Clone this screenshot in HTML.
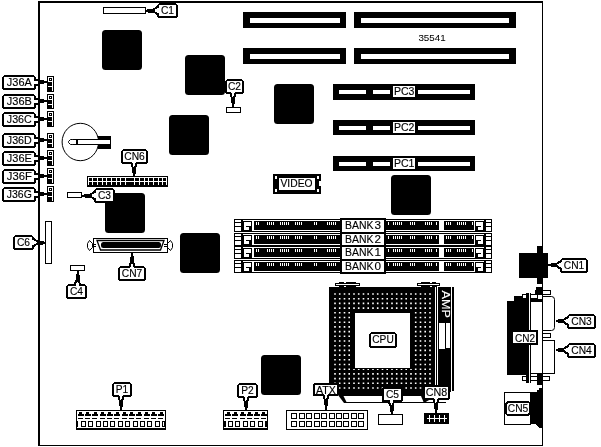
<!DOCTYPE html>
<html><head><meta charset="utf-8"><title>35541</title>
<style>
html,body{margin:0;padding:0;background:#fff;}
svg{display:block;will-change:transform;}
text{font-family:"Liberation Sans",sans-serif;fill:#000;stroke:#000;stroke-width:0.15px;}
</style></head>
<body>
<svg width="601" height="447" viewBox="0 0 601 447" shape-rendering="crispEdges">
<rect x="0" y="0" width="601" height="447" fill="#fff"/>
<rect x="38" y="1" width="505" height="2" fill="#000" />
<rect x="38" y="1" width="2" height="445" fill="#000" />
<rect x="542" y="1" width="1" height="445" fill="#000" />
<rect x="38" y="445" width="505" height="1" fill="#000" />
<rect x="103.5" y="7.5" width="42" height="6" fill="#fff" stroke="#000" stroke-width="1"/>
<rect x="158.0" y="4.0" width="19" height="13" rx="2.5" fill="#fff" stroke="#000" stroke-width="2"/>
<path d="M158 5.5 L153 8.5 L148 8.5 L147 9.5 L146 9.5 L146 11.5 L147 11.5 L148 12.5 L153 12.5 L158 15.5 Z" fill="#000"/>
<path d="M159.5 7.0 L154.5 10.0 L154.5 11.0 L159.5 14.0 Z" fill="#fff"/>
<text x="167.5" y="14" font-size="11.7" text-anchor="middle" textLength="13.1" lengthAdjust="spacingAndGlyphs" >C1</text>
<rect x="102" y="30" width="40" height="40" rx="3.5" fill="#000" shape-rendering="auto"/>
<rect x="185" y="55" width="40" height="40" rx="3.5" fill="#000" shape-rendering="auto"/>
<rect x="169" y="115" width="40" height="40" rx="3.5" fill="#000" shape-rendering="auto"/>
<rect x="274" y="84" width="40" height="40" rx="3.5" fill="#000" shape-rendering="auto"/>
<rect x="391" y="175" width="40" height="40" rx="3.5" fill="#000" shape-rendering="auto"/>
<rect x="105" y="193" width="40" height="40" rx="3.5" fill="#000" shape-rendering="auto"/>
<rect x="180" y="233" width="40" height="40" rx="3.5" fill="#000" shape-rendering="auto"/>
<rect x="261" y="355" width="40" height="40" rx="3.5" fill="#000" shape-rendering="auto"/>
<rect x="226.5" y="107.5" width="14" height="5" fill="#fff" stroke="#000" stroke-width="1"/>
<rect x="226.0" y="80.0" width="17" height="13" rx="2.5" fill="#fff" stroke="#000" stroke-width="2"/>
<path d="M229 93 L231 98 L231 103 L232 104 L232 107 L234 107 L234 104 L235 103 L235 98 L237 93 Z" fill="#000"/>
<path d="M231 91.5 L232.5 96.5 L233.5 96.5 L235 91.5 Z" fill="#fff"/>
<text x="234.5" y="90" font-size="11.7" text-anchor="middle" textLength="13.1" lengthAdjust="spacingAndGlyphs" >C2</text>
<rect x="243" y="12" width="103" height="16" fill="#000" />
<rect x="250" y="18" width="90" height="5" fill="#fff" />
<rect x="354" y="12" width="162" height="16" fill="#000" />
<rect x="361" y="18" width="148" height="5" fill="#fff" />
<rect x="243" y="48" width="103" height="16" fill="#000" />
<rect x="250" y="54" width="90" height="5" fill="#fff" />
<rect x="354" y="48" width="162" height="16" fill="#000" />
<rect x="361" y="54" width="148" height="5" fill="#fff" />
<text x="418.4" y="41" font-size="9.8" style="stroke-width:0.05px">35541</text>
<rect x="333" y="84" width="142" height="16" fill="#000" />
<rect x="339" y="90" width="27" height="4" fill="#fff" />
<rect x="373" y="90" width="17" height="4" fill="#fff" />
<rect x="418" y="90" width="52" height="4" fill="#fff" />
<rect x="393" y="86" width="22" height="11" fill="#fff" />
<text x="404.2" y="95" font-size="11.7" text-anchor="middle" textLength="20.5" lengthAdjust="spacingAndGlyphs" >PC3</text>
<rect x="333" y="120" width="142" height="15" fill="#000" />
<rect x="339" y="125.5" width="27" height="4" fill="#fff" />
<rect x="373" y="125.5" width="17" height="4" fill="#fff" />
<rect x="418" y="125.5" width="52" height="4" fill="#fff" />
<rect x="393" y="122" width="22" height="11" fill="#fff" />
<text x="404.2" y="131" font-size="11.7" text-anchor="middle" textLength="20.5" lengthAdjust="spacingAndGlyphs" >PC2</text>
<rect x="333" y="156" width="142" height="15" fill="#000" />
<rect x="339" y="161.5" width="27" height="4" fill="#fff" />
<rect x="373" y="161.5" width="17" height="4" fill="#fff" />
<rect x="418" y="161.5" width="52" height="4" fill="#fff" />
<rect x="393" y="158" width="22" height="11" fill="#fff" />
<text x="404.2" y="167" font-size="11.7" text-anchor="middle" textLength="20.5" lengthAdjust="spacingAndGlyphs" >PC1</text>
<rect x="3.0" y="76.0" width="32" height="13" fill="#fff" stroke="#000" stroke-width="2" rx="2.5"/>
<rect x="34" y="79" width="4" height="2" fill="#000" />
<rect x="34" y="84" width="4" height="2" fill="#000" />
<rect x="33" y="81" width="5" height="3" fill="#fff" />
<rect x="40" y="80" width="4" height="4" fill="#000" />
<rect x="44" y="81" width="3" height="2" fill="#000" />
<text x="19.3" y="86" font-size="11.7" text-anchor="middle" textLength="25" lengthAdjust="spacingAndGlyphs" >J36A</text>
<rect x="47.5" y="76.5" width="6" height="15" fill="#fff" stroke="#000" stroke-width="1"/>
<rect x="49.5" y="78.5" width="2" height="2" fill="#fff" stroke="#000" stroke-width="1"/>
<rect x="48" y="82" width="4" height="4" fill="#000" />
<rect x="48" y="87" width="4" height="5" fill="#000" />
<rect x="3.0" y="95.0" width="32" height="13" fill="#fff" stroke="#000" stroke-width="2" rx="2.5"/>
<rect x="34" y="98" width="4" height="2" fill="#000" />
<rect x="34" y="103" width="4" height="2" fill="#000" />
<rect x="33" y="100" width="5" height="3" fill="#fff" />
<rect x="40" y="99" width="4" height="4" fill="#000" />
<rect x="44" y="100" width="3" height="2" fill="#000" />
<text x="19.3" y="105" font-size="11.7" text-anchor="middle" textLength="25" lengthAdjust="spacingAndGlyphs" >J36B</text>
<rect x="47.5" y="94.5" width="6" height="14" fill="#fff" stroke="#000" stroke-width="1"/>
<rect x="49.5" y="96.5" width="2" height="2" fill="#fff" stroke="#000" stroke-width="1"/>
<rect x="48" y="100" width="4" height="4" fill="#000" />
<rect x="48" y="105" width="4" height="4" fill="#000" />
<rect x="3.0" y="113.0" width="32" height="13" fill="#fff" stroke="#000" stroke-width="2" rx="2.5"/>
<rect x="34" y="116" width="4" height="2" fill="#000" />
<rect x="34" y="121" width="4" height="2" fill="#000" />
<rect x="33" y="118" width="5" height="3" fill="#fff" />
<rect x="40" y="117" width="4" height="4" fill="#000" />
<rect x="44" y="118" width="3" height="2" fill="#000" />
<text x="19.3" y="123" font-size="11.7" text-anchor="middle" textLength="25" lengthAdjust="spacingAndGlyphs" >J36C</text>
<rect x="47.5" y="111.5" width="6" height="15" fill="#fff" stroke="#000" stroke-width="1"/>
<rect x="49.5" y="113.5" width="2" height="2" fill="#fff" stroke="#000" stroke-width="1"/>
<rect x="48" y="117" width="4" height="4" fill="#000" />
<rect x="48" y="122" width="4" height="5" fill="#000" />
<rect x="3.0" y="134.0" width="32" height="13" fill="#fff" stroke="#000" stroke-width="2" rx="2.5"/>
<rect x="34" y="137" width="4" height="2" fill="#000" />
<rect x="34" y="142" width="4" height="2" fill="#000" />
<rect x="33" y="139" width="5" height="3" fill="#fff" />
<rect x="40" y="138" width="4" height="4" fill="#000" />
<rect x="44" y="139" width="3" height="2" fill="#000" />
<text x="19.3" y="144" font-size="11.7" text-anchor="middle" textLength="25" lengthAdjust="spacingAndGlyphs" >J36D</text>
<rect x="47.5" y="133.5" width="6" height="14" fill="#fff" stroke="#000" stroke-width="1"/>
<rect x="49.5" y="135.5" width="2" height="2" fill="#fff" stroke="#000" stroke-width="1"/>
<rect x="48" y="139" width="4" height="4" fill="#000" />
<rect x="48" y="144" width="4" height="4" fill="#000" />
<rect x="3.0" y="152.0" width="32" height="13" fill="#fff" stroke="#000" stroke-width="2" rx="2.5"/>
<rect x="34" y="155" width="4" height="2" fill="#000" />
<rect x="34" y="160" width="4" height="2" fill="#000" />
<rect x="33" y="157" width="5" height="3" fill="#fff" />
<rect x="40" y="156" width="4" height="4" fill="#000" />
<rect x="44" y="157" width="3" height="2" fill="#000" />
<text x="19.3" y="162" font-size="11.7" text-anchor="middle" textLength="25" lengthAdjust="spacingAndGlyphs" >J36E</text>
<rect x="47.5" y="150.5" width="6" height="15" fill="#fff" stroke="#000" stroke-width="1"/>
<rect x="49.5" y="152.5" width="2" height="2" fill="#fff" stroke="#000" stroke-width="1"/>
<rect x="48" y="156" width="4" height="4" fill="#000" />
<rect x="48" y="161" width="4" height="5" fill="#000" />
<rect x="3.0" y="170.0" width="32" height="13" fill="#fff" stroke="#000" stroke-width="2" rx="2.5"/>
<rect x="34" y="173" width="4" height="2" fill="#000" />
<rect x="34" y="178" width="4" height="2" fill="#000" />
<rect x="33" y="175" width="5" height="3" fill="#fff" />
<rect x="40" y="174" width="4" height="4" fill="#000" />
<rect x="44" y="175" width="3" height="2" fill="#000" />
<text x="19.3" y="180" font-size="11.7" text-anchor="middle" textLength="25" lengthAdjust="spacingAndGlyphs" >J36F</text>
<rect x="47.5" y="168.5" width="6" height="15" fill="#fff" stroke="#000" stroke-width="1"/>
<rect x="49.5" y="170.5" width="2" height="2" fill="#fff" stroke="#000" stroke-width="1"/>
<rect x="48" y="174" width="4" height="4" fill="#000" />
<rect x="48" y="179" width="4" height="5" fill="#000" />
<rect x="3.0" y="188.0" width="32" height="13" fill="#fff" stroke="#000" stroke-width="2" rx="2.5"/>
<rect x="34" y="191" width="4" height="2" fill="#000" />
<rect x="34" y="196" width="4" height="2" fill="#000" />
<rect x="33" y="193" width="5" height="3" fill="#fff" />
<rect x="40" y="192" width="4" height="4" fill="#000" />
<rect x="44" y="193" width="3" height="2" fill="#000" />
<text x="19.3" y="198" font-size="11.7" text-anchor="middle" textLength="25" lengthAdjust="spacingAndGlyphs" >J36G</text>
<rect x="47.5" y="186.5" width="6" height="15" fill="#fff" stroke="#000" stroke-width="1"/>
<rect x="49.5" y="188.5" width="2" height="2" fill="#fff" stroke="#000" stroke-width="1"/>
<rect x="48" y="192" width="4" height="4" fill="#000" />
<rect x="48" y="197" width="4" height="5" fill="#000" />
<ellipse cx="80.3" cy="142" rx="18.2" ry="18.7" fill="#fff" stroke="#000" stroke-width="1" shape-rendering="auto"/>
<rect x="98" y="136" width="13" height="13" fill="#000" />
<rect x="72" y="139" width="39" height="6" fill="#000" />
<rect x="72" y="140" width="38" height="4" fill="#fff" />
<path d="M72.5 139.5 L70.5 139.5 L68.5 141.5 L68.5 142.5 L70.5 144.5 L72.5 144.5" fill="#fff" stroke="#000" stroke-width="1" shape-rendering="auto"/>
<rect x="76" y="140" width="2" height="4" fill="#000" />
<rect x="87" y="176" width="81" height="11" fill="#000" />
<rect x="88" y="177" width="79" height="1" fill="#fff" />
<rect x="88" y="181" width="79" height="1" fill="#fff" />
<rect x="88" y="177" width="1" height="8" fill="#fff" />
<rect x="92" y="177" width="1" height="8" fill="#fff" />
<rect x="97" y="177" width="1" height="8" fill="#fff" />
<rect x="102" y="177" width="1" height="8" fill="#fff" />
<rect x="106" y="177" width="1" height="8" fill="#fff" />
<rect x="111" y="177" width="1" height="8" fill="#fff" />
<rect x="116" y="177" width="1" height="8" fill="#fff" />
<rect x="120" y="177" width="1" height="8" fill="#fff" />
<rect x="125" y="177" width="1" height="8" fill="#fff" />
<rect x="134" y="177" width="1" height="8" fill="#fff" />
<rect x="139" y="177" width="1" height="8" fill="#fff" />
<rect x="144" y="177" width="1" height="8" fill="#fff" />
<rect x="148" y="177" width="1" height="8" fill="#fff" />
<rect x="153" y="177" width="1" height="8" fill="#fff" />
<rect x="158" y="177" width="1" height="8" fill="#fff" />
<rect x="162" y="177" width="1" height="8" fill="#fff" />
<rect x="166" y="177" width="1" height="8" fill="#fff" />
<rect x="122.0" y="150.0" width="25" height="13" rx="2.5" fill="#fff" stroke="#000" stroke-width="2"/>
<path d="M130 163 L132 168 L132 173 L133 174 L133 176 L135 176 L135 174 L136 173 L136 168 L138 163 Z" fill="#000"/>
<path d="M132 161.5 L133.5 166.5 L134.5 166.5 L136 161.5 Z" fill="#fff"/>
<text x="134.5" y="160" font-size="11.7" text-anchor="middle" textLength="20.5" lengthAdjust="spacingAndGlyphs" >CN6</text>
<rect x="67.5" y="192.5" width="14" height="5" fill="#fff" stroke="#000" stroke-width="1"/>
<rect x="95.0" y="189.0" width="19" height="13" rx="2.5" fill="#fff" stroke="#000" stroke-width="2"/>
<path d="M95 190.5 L90 193.5 L85 193.5 L84 194.5 L82 194.5 L82 196.5 L84 196.5 L85 197.5 L90 197.5 L95 200.5 Z" fill="#000"/>
<path d="M96.5 192.0 L91.5 195.0 L91.5 196.0 L96.5 199.0 Z" fill="#fff"/>
<text x="104.5" y="199" font-size="11.7" text-anchor="middle" textLength="13.1" lengthAdjust="spacingAndGlyphs" >C3</text>
<rect x="45.5" y="221.5" width="6" height="42" fill="#fff" stroke="#000" stroke-width="1"/>
<rect x="14.0" y="236.0" width="19" height="13" rx="2.5" fill="#fff" stroke="#000" stroke-width="2"/>
<path d="M33 237.5 L38 240.5 L43 240.5 L44 241.5 L45 241.5 L45 243.5 L44 243.5 L43 244.5 L38 244.5 L33 247.5 Z" fill="#000"/>
<path d="M31.5 239.0 L36.5 242.0 L36.5 243.0 L31.5 246.0 Z" fill="#fff"/>
<text x="23.5" y="246" font-size="11.7" text-anchor="middle" textLength="13.1" lengthAdjust="spacingAndGlyphs" >C6</text>
<rect x="70.5" y="265.5" width="14" height="5" fill="#fff" stroke="#000" stroke-width="1"/>
<rect x="67.0" y="285.0" width="19" height="13" rx="2.5" fill="#fff" stroke="#000" stroke-width="2"/>
<path d="M73.5 285 L75.5 280 L75.5 275 L76.5 274 L76.5 271 L78.5 271 L78.5 274 L79.5 275 L79.5 280 L81.5 285 Z" fill="#000"/>
<path d="M75.5 286.5 L77.0 281.5 L78.0 281.5 L79.5 286.5 Z" fill="#fff"/>
<text x="76.5" y="295" font-size="11.7" text-anchor="middle" textLength="13.1" lengthAdjust="spacingAndGlyphs" >C4</text>
<path d="M89.5 240.5 L87.5 243.5 L87.5 247.5 L89.5 250.5 L92.5 247.5 L92.5 243.5 Z" fill="#fff" stroke="#000" stroke-width="1" shape-rendering="auto"/>
<path d="M170.5 240.5 L172.5 243.5 L172.5 247.5 L170.5 250.5 L167.5 247.5 L167.5 243.5 Z" fill="#fff" stroke="#000" stroke-width="1" shape-rendering="auto"/>
<rect x="93.5" y="238.5" width="74" height="14" fill="#fff" stroke="#000" stroke-width="1"/>
<rect x="92" y="244" width="4" height="1" fill="#000" />
<rect x="92" y="246" width="4" height="1" fill="#000" />
<rect x="164" y="244" width="4" height="1" fill="#000" />
<rect x="164" y="246" width="4" height="1" fill="#000" />
<path d="M97 240.5 L164 240.5 L160.5 250 L100.5 250 Z" fill="#fff" stroke="#000" stroke-width="1.3" shape-rendering="auto"/>
<rect x="101" y="242" width="60" height="6" rx="2.5" fill="#000" shape-rendering="auto"/>
<rect x="119.0" y="267.0" width="26" height="13" rx="2.5" fill="#fff" stroke="#000" stroke-width="2"/>
<path d="M128 267 L130 262 L130 257 L131 256 L131 253 L133 253 L133 256 L134 257 L134 262 L136 267 Z" fill="#000"/>
<path d="M130 268.5 L131.5 263.5 L132.5 263.5 L134 268.5 Z" fill="#fff"/>
<text x="132.0" y="277" font-size="11.7" text-anchor="middle" textLength="20.5" lengthAdjust="spacingAndGlyphs" >CN7</text>
<rect x="273" y="174" width="48" height="20" fill="#000" />
<rect x="279" y="178" width="36" height="12" fill="#fff" />
<rect x="275" y="176" width="2" height="3" fill="#fff" />
<rect x="317" y="176" width="2" height="3" fill="#fff" />
<rect x="275" y="189" width="2" height="3" fill="#fff" />
<rect x="317" y="189" width="2" height="3" fill="#fff" />
<rect x="319" y="181" width="2" height="5" fill="#fff" />
<text x="296.5" y="187" font-size="11.7" text-anchor="middle" textLength="32" lengthAdjust="spacingAndGlyphs" >VIDEO</text>
<rect x="234.5" y="219.5" width="257" height="12" fill="#fff" stroke="#000" stroke-width="1"/>
<rect x="234" y="222" width="7" height="1" fill="#000" />
<rect x="234" y="226" width="7" height="1" fill="#000" />
<rect x="486" y="222" width="6" height="1" fill="#000" />
<rect x="486" y="226" width="6" height="1" fill="#000" />
<rect x="241" y="219" width="2" height="13" fill="#000" />
<rect x="484" y="219" width="2" height="13" fill="#000" />
<rect x="243" y="221" width="9" height="10" fill="#000" />
<rect x="244" y="222" width="7" height="4" fill="#fff" />
<rect x="244" y="226" width="2" height="1" fill="#fff" />
<rect x="244" y="227" width="5" height="3" fill="#fff" />
<rect x="475" y="221" width="9" height="10" fill="#000" />
<rect x="476" y="222" width="7" height="4" fill="#fff" />
<rect x="481" y="226" width="2" height="1" fill="#fff" />
<rect x="478" y="227" width="5" height="3" fill="#fff" />
<rect x="254" y="221" width="86" height="9" fill="#000" />
<rect x="386" y="221" width="53" height="9" fill="#000" />
<rect x="444" y="221" width="30" height="9" fill="#000" />
<rect x="256" y="222" width="1" height="3" fill="#fff" />
<rect x="258" y="222" width="1" height="3" fill="#fff" />
<rect x="267" y="222" width="1" height="3" fill="#fff" />
<rect x="269" y="222" width="1" height="3" fill="#fff" />
<rect x="271" y="222" width="1" height="3" fill="#fff" />
<rect x="273" y="222" width="1" height="3" fill="#fff" />
<rect x="280" y="222" width="1" height="3" fill="#fff" />
<rect x="282" y="222" width="1" height="3" fill="#fff" />
<rect x="284" y="222" width="1" height="3" fill="#fff" />
<rect x="286" y="222" width="1" height="3" fill="#fff" />
<rect x="288" y="222" width="1" height="3" fill="#fff" />
<rect x="295" y="222" width="1" height="3" fill="#fff" />
<rect x="297" y="222" width="1" height="3" fill="#fff" />
<rect x="299" y="222" width="1" height="3" fill="#fff" />
<rect x="301" y="222" width="1" height="3" fill="#fff" />
<rect x="314" y="222" width="1" height="3" fill="#fff" />
<rect x="316" y="222" width="1" height="3" fill="#fff" />
<rect x="327" y="222" width="1" height="3" fill="#fff" />
<rect x="329" y="222" width="1" height="3" fill="#fff" />
<rect x="331" y="222" width="1" height="3" fill="#fff" />
<rect x="333" y="222" width="1" height="3" fill="#fff" />
<rect x="335" y="222" width="1" height="3" fill="#fff" />
<rect x="388" y="222" width="1" height="3" fill="#fff" />
<rect x="393" y="222" width="1" height="3" fill="#fff" />
<rect x="395" y="222" width="1" height="3" fill="#fff" />
<rect x="397" y="222" width="1" height="3" fill="#fff" />
<rect x="399" y="222" width="1" height="3" fill="#fff" />
<rect x="401" y="222" width="1" height="3" fill="#fff" />
<rect x="410" y="222" width="1" height="3" fill="#fff" />
<rect x="412" y="222" width="1" height="3" fill="#fff" />
<rect x="414" y="222" width="1" height="3" fill="#fff" />
<rect x="425" y="222" width="1" height="3" fill="#fff" />
<rect x="427" y="222" width="1" height="3" fill="#fff" />
<rect x="429" y="222" width="1" height="3" fill="#fff" />
<rect x="431" y="222" width="1" height="3" fill="#fff" />
<rect x="436" y="222" width="1" height="3" fill="#fff" />
<rect x="446" y="222" width="1" height="3" fill="#fff" />
<rect x="448" y="222" width="1" height="3" fill="#fff" />
<rect x="450" y="222" width="1" height="3" fill="#fff" />
<rect x="457" y="222" width="1" height="3" fill="#fff" />
<rect x="459" y="222" width="1" height="3" fill="#fff" />
<rect x="461" y="222" width="1" height="3" fill="#fff" />
<rect x="463" y="222" width="1" height="3" fill="#fff" />
<rect x="465" y="222" width="1" height="3" fill="#fff" />
<rect x="472" y="222" width="1" height="3" fill="#fff" />
<rect x="234.5" y="233.5" width="257" height="12" fill="#fff" stroke="#000" stroke-width="1"/>
<rect x="234" y="236" width="7" height="1" fill="#000" />
<rect x="234" y="240" width="7" height="1" fill="#000" />
<rect x="486" y="236" width="6" height="1" fill="#000" />
<rect x="486" y="240" width="6" height="1" fill="#000" />
<rect x="241" y="233" width="2" height="13" fill="#000" />
<rect x="484" y="233" width="2" height="13" fill="#000" />
<rect x="243" y="235" width="9" height="10" fill="#000" />
<rect x="244" y="236" width="7" height="4" fill="#fff" />
<rect x="244" y="240" width="2" height="1" fill="#fff" />
<rect x="244" y="241" width="5" height="3" fill="#fff" />
<rect x="475" y="235" width="9" height="10" fill="#000" />
<rect x="476" y="236" width="7" height="4" fill="#fff" />
<rect x="481" y="240" width="2" height="1" fill="#fff" />
<rect x="478" y="241" width="5" height="3" fill="#fff" />
<rect x="254" y="235" width="86" height="9" fill="#000" />
<rect x="386" y="235" width="53" height="9" fill="#000" />
<rect x="444" y="235" width="30" height="9" fill="#000" />
<rect x="256" y="236" width="1" height="3" fill="#fff" />
<rect x="258" y="236" width="1" height="3" fill="#fff" />
<rect x="267" y="236" width="1" height="3" fill="#fff" />
<rect x="269" y="236" width="1" height="3" fill="#fff" />
<rect x="271" y="236" width="1" height="3" fill="#fff" />
<rect x="273" y="236" width="1" height="3" fill="#fff" />
<rect x="280" y="236" width="1" height="3" fill="#fff" />
<rect x="282" y="236" width="1" height="3" fill="#fff" />
<rect x="284" y="236" width="1" height="3" fill="#fff" />
<rect x="286" y="236" width="1" height="3" fill="#fff" />
<rect x="288" y="236" width="1" height="3" fill="#fff" />
<rect x="295" y="236" width="1" height="3" fill="#fff" />
<rect x="297" y="236" width="1" height="3" fill="#fff" />
<rect x="299" y="236" width="1" height="3" fill="#fff" />
<rect x="301" y="236" width="1" height="3" fill="#fff" />
<rect x="314" y="236" width="1" height="3" fill="#fff" />
<rect x="316" y="236" width="1" height="3" fill="#fff" />
<rect x="327" y="236" width="1" height="3" fill="#fff" />
<rect x="329" y="236" width="1" height="3" fill="#fff" />
<rect x="331" y="236" width="1" height="3" fill="#fff" />
<rect x="333" y="236" width="1" height="3" fill="#fff" />
<rect x="335" y="236" width="1" height="3" fill="#fff" />
<rect x="388" y="236" width="1" height="3" fill="#fff" />
<rect x="393" y="236" width="1" height="3" fill="#fff" />
<rect x="395" y="236" width="1" height="3" fill="#fff" />
<rect x="397" y="236" width="1" height="3" fill="#fff" />
<rect x="399" y="236" width="1" height="3" fill="#fff" />
<rect x="401" y="236" width="1" height="3" fill="#fff" />
<rect x="410" y="236" width="1" height="3" fill="#fff" />
<rect x="412" y="236" width="1" height="3" fill="#fff" />
<rect x="414" y="236" width="1" height="3" fill="#fff" />
<rect x="425" y="236" width="1" height="3" fill="#fff" />
<rect x="427" y="236" width="1" height="3" fill="#fff" />
<rect x="429" y="236" width="1" height="3" fill="#fff" />
<rect x="431" y="236" width="1" height="3" fill="#fff" />
<rect x="436" y="236" width="1" height="3" fill="#fff" />
<rect x="446" y="236" width="1" height="3" fill="#fff" />
<rect x="448" y="236" width="1" height="3" fill="#fff" />
<rect x="450" y="236" width="1" height="3" fill="#fff" />
<rect x="457" y="236" width="1" height="3" fill="#fff" />
<rect x="459" y="236" width="1" height="3" fill="#fff" />
<rect x="461" y="236" width="1" height="3" fill="#fff" />
<rect x="463" y="236" width="1" height="3" fill="#fff" />
<rect x="465" y="236" width="1" height="3" fill="#fff" />
<rect x="472" y="236" width="1" height="3" fill="#fff" />
<rect x="234.5" y="246.5" width="257" height="12" fill="#fff" stroke="#000" stroke-width="1"/>
<rect x="234" y="249" width="7" height="1" fill="#000" />
<rect x="234" y="253" width="7" height="1" fill="#000" />
<rect x="486" y="249" width="6" height="1" fill="#000" />
<rect x="486" y="253" width="6" height="1" fill="#000" />
<rect x="241" y="246" width="2" height="13" fill="#000" />
<rect x="484" y="246" width="2" height="13" fill="#000" />
<rect x="243" y="248" width="9" height="10" fill="#000" />
<rect x="244" y="249" width="7" height="4" fill="#fff" />
<rect x="244" y="253" width="2" height="1" fill="#fff" />
<rect x="244" y="254" width="5" height="3" fill="#fff" />
<rect x="475" y="248" width="9" height="10" fill="#000" />
<rect x="476" y="249" width="7" height="4" fill="#fff" />
<rect x="481" y="253" width="2" height="1" fill="#fff" />
<rect x="478" y="254" width="5" height="3" fill="#fff" />
<rect x="254" y="248" width="86" height="9" fill="#000" />
<rect x="386" y="248" width="53" height="9" fill="#000" />
<rect x="444" y="248" width="30" height="9" fill="#000" />
<rect x="256" y="249" width="1" height="3" fill="#fff" />
<rect x="258" y="249" width="1" height="3" fill="#fff" />
<rect x="267" y="249" width="1" height="3" fill="#fff" />
<rect x="269" y="249" width="1" height="3" fill="#fff" />
<rect x="271" y="249" width="1" height="3" fill="#fff" />
<rect x="273" y="249" width="1" height="3" fill="#fff" />
<rect x="280" y="249" width="1" height="3" fill="#fff" />
<rect x="282" y="249" width="1" height="3" fill="#fff" />
<rect x="284" y="249" width="1" height="3" fill="#fff" />
<rect x="286" y="249" width="1" height="3" fill="#fff" />
<rect x="288" y="249" width="1" height="3" fill="#fff" />
<rect x="295" y="249" width="1" height="3" fill="#fff" />
<rect x="297" y="249" width="1" height="3" fill="#fff" />
<rect x="299" y="249" width="1" height="3" fill="#fff" />
<rect x="301" y="249" width="1" height="3" fill="#fff" />
<rect x="314" y="249" width="1" height="3" fill="#fff" />
<rect x="316" y="249" width="1" height="3" fill="#fff" />
<rect x="327" y="249" width="1" height="3" fill="#fff" />
<rect x="329" y="249" width="1" height="3" fill="#fff" />
<rect x="331" y="249" width="1" height="3" fill="#fff" />
<rect x="333" y="249" width="1" height="3" fill="#fff" />
<rect x="335" y="249" width="1" height="3" fill="#fff" />
<rect x="388" y="249" width="1" height="3" fill="#fff" />
<rect x="393" y="249" width="1" height="3" fill="#fff" />
<rect x="395" y="249" width="1" height="3" fill="#fff" />
<rect x="397" y="249" width="1" height="3" fill="#fff" />
<rect x="399" y="249" width="1" height="3" fill="#fff" />
<rect x="401" y="249" width="1" height="3" fill="#fff" />
<rect x="410" y="249" width="1" height="3" fill="#fff" />
<rect x="412" y="249" width="1" height="3" fill="#fff" />
<rect x="414" y="249" width="1" height="3" fill="#fff" />
<rect x="425" y="249" width="1" height="3" fill="#fff" />
<rect x="427" y="249" width="1" height="3" fill="#fff" />
<rect x="429" y="249" width="1" height="3" fill="#fff" />
<rect x="431" y="249" width="1" height="3" fill="#fff" />
<rect x="436" y="249" width="1" height="3" fill="#fff" />
<rect x="446" y="249" width="1" height="3" fill="#fff" />
<rect x="448" y="249" width="1" height="3" fill="#fff" />
<rect x="450" y="249" width="1" height="3" fill="#fff" />
<rect x="457" y="249" width="1" height="3" fill="#fff" />
<rect x="459" y="249" width="1" height="3" fill="#fff" />
<rect x="461" y="249" width="1" height="3" fill="#fff" />
<rect x="463" y="249" width="1" height="3" fill="#fff" />
<rect x="465" y="249" width="1" height="3" fill="#fff" />
<rect x="472" y="249" width="1" height="3" fill="#fff" />
<rect x="234.5" y="260.5" width="257" height="12" fill="#fff" stroke="#000" stroke-width="1"/>
<rect x="234" y="263" width="7" height="1" fill="#000" />
<rect x="234" y="267" width="7" height="1" fill="#000" />
<rect x="486" y="263" width="6" height="1" fill="#000" />
<rect x="486" y="267" width="6" height="1" fill="#000" />
<rect x="241" y="260" width="2" height="13" fill="#000" />
<rect x="484" y="260" width="2" height="13" fill="#000" />
<rect x="243" y="262" width="9" height="10" fill="#000" />
<rect x="244" y="263" width="7" height="4" fill="#fff" />
<rect x="244" y="267" width="2" height="1" fill="#fff" />
<rect x="244" y="268" width="5" height="3" fill="#fff" />
<rect x="475" y="262" width="9" height="10" fill="#000" />
<rect x="476" y="263" width="7" height="4" fill="#fff" />
<rect x="481" y="267" width="2" height="1" fill="#fff" />
<rect x="478" y="268" width="5" height="3" fill="#fff" />
<rect x="254" y="262" width="86" height="9" fill="#000" />
<rect x="386" y="262" width="53" height="9" fill="#000" />
<rect x="444" y="262" width="30" height="9" fill="#000" />
<rect x="256" y="263" width="1" height="3" fill="#fff" />
<rect x="258" y="263" width="1" height="3" fill="#fff" />
<rect x="267" y="263" width="1" height="3" fill="#fff" />
<rect x="269" y="263" width="1" height="3" fill="#fff" />
<rect x="271" y="263" width="1" height="3" fill="#fff" />
<rect x="273" y="263" width="1" height="3" fill="#fff" />
<rect x="280" y="263" width="1" height="3" fill="#fff" />
<rect x="282" y="263" width="1" height="3" fill="#fff" />
<rect x="284" y="263" width="1" height="3" fill="#fff" />
<rect x="286" y="263" width="1" height="3" fill="#fff" />
<rect x="288" y="263" width="1" height="3" fill="#fff" />
<rect x="295" y="263" width="1" height="3" fill="#fff" />
<rect x="297" y="263" width="1" height="3" fill="#fff" />
<rect x="299" y="263" width="1" height="3" fill="#fff" />
<rect x="301" y="263" width="1" height="3" fill="#fff" />
<rect x="314" y="263" width="1" height="3" fill="#fff" />
<rect x="316" y="263" width="1" height="3" fill="#fff" />
<rect x="327" y="263" width="1" height="3" fill="#fff" />
<rect x="329" y="263" width="1" height="3" fill="#fff" />
<rect x="331" y="263" width="1" height="3" fill="#fff" />
<rect x="333" y="263" width="1" height="3" fill="#fff" />
<rect x="335" y="263" width="1" height="3" fill="#fff" />
<rect x="388" y="263" width="1" height="3" fill="#fff" />
<rect x="393" y="263" width="1" height="3" fill="#fff" />
<rect x="395" y="263" width="1" height="3" fill="#fff" />
<rect x="397" y="263" width="1" height="3" fill="#fff" />
<rect x="399" y="263" width="1" height="3" fill="#fff" />
<rect x="401" y="263" width="1" height="3" fill="#fff" />
<rect x="410" y="263" width="1" height="3" fill="#fff" />
<rect x="412" y="263" width="1" height="3" fill="#fff" />
<rect x="414" y="263" width="1" height="3" fill="#fff" />
<rect x="425" y="263" width="1" height="3" fill="#fff" />
<rect x="427" y="263" width="1" height="3" fill="#fff" />
<rect x="429" y="263" width="1" height="3" fill="#fff" />
<rect x="431" y="263" width="1" height="3" fill="#fff" />
<rect x="436" y="263" width="1" height="3" fill="#fff" />
<rect x="446" y="263" width="1" height="3" fill="#fff" />
<rect x="448" y="263" width="1" height="3" fill="#fff" />
<rect x="450" y="263" width="1" height="3" fill="#fff" />
<rect x="457" y="263" width="1" height="3" fill="#fff" />
<rect x="459" y="263" width="1" height="3" fill="#fff" />
<rect x="461" y="263" width="1" height="3" fill="#fff" />
<rect x="463" y="263" width="1" height="3" fill="#fff" />
<rect x="465" y="263" width="1" height="3" fill="#fff" />
<rect x="472" y="263" width="1" height="3" fill="#fff" />
<rect x="340" y="218" width="46" height="56" fill="#000" />
<rect x="342" y="220" width="42" height="12" fill="#fff" />
<text x="345" y="228.6" font-size="11.7" text-anchor="start" textLength="28.5" lengthAdjust="spacingAndGlyphs" >BANK</text>
<text x="381" y="228.6" font-size="11.7" text-anchor="end" >3</text>
<rect x="342" y="234" width="42" height="11" fill="#fff" />
<text x="345" y="242.6" font-size="11.7" text-anchor="start" textLength="28.5" lengthAdjust="spacingAndGlyphs" >BANK</text>
<text x="381" y="242.6" font-size="11.7" text-anchor="end" >2</text>
<rect x="342" y="247" width="42" height="12" fill="#fff" />
<text x="345" y="255.6" font-size="11.7" text-anchor="start" textLength="28.5" lengthAdjust="spacingAndGlyphs" >BANK</text>
<text x="381" y="255.6" font-size="11.7" text-anchor="end" >1</text>
<rect x="342" y="261" width="42" height="11" fill="#fff" />
<text x="345" y="269.6" font-size="11.7" text-anchor="start" textLength="28.5" lengthAdjust="spacingAndGlyphs" >BANK</text>
<text x="381" y="269.6" font-size="11.7" text-anchor="end" >0</text>
<rect x="329" y="287" width="107" height="108" fill="#000" />
<path d="M334.2 293.2h1.6v1.6h-1.6zM338.9 293.2h1.6v1.6h-1.6zM343.7 293.2h1.6v1.6h-1.6zM348.4 293.2h1.6v1.6h-1.6zM353.2 293.2h1.6v1.6h-1.6zM357.9 293.2h1.6v1.6h-1.6zM362.7 293.2h1.6v1.6h-1.6zM367.4 293.2h1.6v1.6h-1.6zM372.2 293.2h1.6v1.6h-1.6zM376.9 293.2h1.6v1.6h-1.6zM381.7 293.2h1.6v1.6h-1.6zM386.4 293.2h1.6v1.6h-1.6zM391.2 293.2h1.6v1.6h-1.6zM395.9 293.2h1.6v1.6h-1.6zM400.7 293.2h1.6v1.6h-1.6zM405.4 293.2h1.6v1.6h-1.6zM410.2 293.2h1.6v1.6h-1.6zM414.9 293.2h1.6v1.6h-1.6zM419.7 293.2h1.6v1.6h-1.6zM424.4 293.2h1.6v1.6h-1.6zM429.2 293.2h1.6v1.6h-1.6zM334.2 297.9h1.6v1.6h-1.6zM338.9 297.9h1.6v1.6h-1.6zM343.7 297.9h1.6v1.6h-1.6zM348.4 297.9h1.6v1.6h-1.6zM353.2 297.9h1.6v1.6h-1.6zM357.9 297.9h1.6v1.6h-1.6zM362.7 297.9h1.6v1.6h-1.6zM367.4 297.9h1.6v1.6h-1.6zM372.2 297.9h1.6v1.6h-1.6zM376.9 297.9h1.6v1.6h-1.6zM381.7 297.9h1.6v1.6h-1.6zM386.4 297.9h1.6v1.6h-1.6zM391.2 297.9h1.6v1.6h-1.6zM395.9 297.9h1.6v1.6h-1.6zM400.7 297.9h1.6v1.6h-1.6zM405.4 297.9h1.6v1.6h-1.6zM410.2 297.9h1.6v1.6h-1.6zM414.9 297.9h1.6v1.6h-1.6zM419.7 297.9h1.6v1.6h-1.6zM424.4 297.9h1.6v1.6h-1.6zM429.2 297.9h1.6v1.6h-1.6zM334.2 302.6h1.6v1.6h-1.6zM338.9 302.6h1.6v1.6h-1.6zM343.7 302.6h1.6v1.6h-1.6zM348.4 302.6h1.6v1.6h-1.6zM353.2 302.6h1.6v1.6h-1.6zM357.9 302.6h1.6v1.6h-1.6zM362.7 302.6h1.6v1.6h-1.6zM367.4 302.6h1.6v1.6h-1.6zM372.2 302.6h1.6v1.6h-1.6zM376.9 302.6h1.6v1.6h-1.6zM381.7 302.6h1.6v1.6h-1.6zM386.4 302.6h1.6v1.6h-1.6zM391.2 302.6h1.6v1.6h-1.6zM395.9 302.6h1.6v1.6h-1.6zM400.7 302.6h1.6v1.6h-1.6zM405.4 302.6h1.6v1.6h-1.6zM410.2 302.6h1.6v1.6h-1.6zM414.9 302.6h1.6v1.6h-1.6zM419.7 302.6h1.6v1.6h-1.6zM424.4 302.6h1.6v1.6h-1.6zM429.2 302.6h1.6v1.6h-1.6zM334.2 307.3h1.6v1.6h-1.6zM338.9 307.3h1.6v1.6h-1.6zM343.7 307.3h1.6v1.6h-1.6zM348.4 307.3h1.6v1.6h-1.6zM353.2 307.3h1.6v1.6h-1.6zM357.9 307.3h1.6v1.6h-1.6zM362.7 307.3h1.6v1.6h-1.6zM367.4 307.3h1.6v1.6h-1.6zM372.2 307.3h1.6v1.6h-1.6zM376.9 307.3h1.6v1.6h-1.6zM381.7 307.3h1.6v1.6h-1.6zM386.4 307.3h1.6v1.6h-1.6zM391.2 307.3h1.6v1.6h-1.6zM395.9 307.3h1.6v1.6h-1.6zM400.7 307.3h1.6v1.6h-1.6zM405.4 307.3h1.6v1.6h-1.6zM410.2 307.3h1.6v1.6h-1.6zM414.9 307.3h1.6v1.6h-1.6zM419.7 307.3h1.6v1.6h-1.6zM424.4 307.3h1.6v1.6h-1.6zM429.2 307.3h1.6v1.6h-1.6zM334.2 312.0h1.6v1.6h-1.6zM338.9 312.0h1.6v1.6h-1.6zM343.7 312.0h1.6v1.6h-1.6zM348.4 312.0h1.6v1.6h-1.6zM353.2 312.0h1.6v1.6h-1.6zM357.9 312.0h1.6v1.6h-1.6zM362.7 312.0h1.6v1.6h-1.6zM367.4 312.0h1.6v1.6h-1.6zM372.2 312.0h1.6v1.6h-1.6zM376.9 312.0h1.6v1.6h-1.6zM381.7 312.0h1.6v1.6h-1.6zM386.4 312.0h1.6v1.6h-1.6zM391.2 312.0h1.6v1.6h-1.6zM395.9 312.0h1.6v1.6h-1.6zM400.7 312.0h1.6v1.6h-1.6zM405.4 312.0h1.6v1.6h-1.6zM410.2 312.0h1.6v1.6h-1.6zM414.9 312.0h1.6v1.6h-1.6zM419.7 312.0h1.6v1.6h-1.6zM424.4 312.0h1.6v1.6h-1.6zM429.2 312.0h1.6v1.6h-1.6zM334.2 316.7h1.6v1.6h-1.6zM338.9 316.7h1.6v1.6h-1.6zM343.7 316.7h1.6v1.6h-1.6zM348.4 316.7h1.6v1.6h-1.6zM353.2 316.7h1.6v1.6h-1.6zM357.9 316.7h1.6v1.6h-1.6zM362.7 316.7h1.6v1.6h-1.6zM367.4 316.7h1.6v1.6h-1.6zM372.2 316.7h1.6v1.6h-1.6zM376.9 316.7h1.6v1.6h-1.6zM381.7 316.7h1.6v1.6h-1.6zM386.4 316.7h1.6v1.6h-1.6zM391.2 316.7h1.6v1.6h-1.6zM395.9 316.7h1.6v1.6h-1.6zM400.7 316.7h1.6v1.6h-1.6zM405.4 316.7h1.6v1.6h-1.6zM410.2 316.7h1.6v1.6h-1.6zM414.9 316.7h1.6v1.6h-1.6zM419.7 316.7h1.6v1.6h-1.6zM424.4 316.7h1.6v1.6h-1.6zM429.2 316.7h1.6v1.6h-1.6zM334.2 321.4h1.6v1.6h-1.6zM338.9 321.4h1.6v1.6h-1.6zM343.7 321.4h1.6v1.6h-1.6zM348.4 321.4h1.6v1.6h-1.6zM353.2 321.4h1.6v1.6h-1.6zM357.9 321.4h1.6v1.6h-1.6zM362.7 321.4h1.6v1.6h-1.6zM367.4 321.4h1.6v1.6h-1.6zM372.2 321.4h1.6v1.6h-1.6zM376.9 321.4h1.6v1.6h-1.6zM381.7 321.4h1.6v1.6h-1.6zM386.4 321.4h1.6v1.6h-1.6zM391.2 321.4h1.6v1.6h-1.6zM395.9 321.4h1.6v1.6h-1.6zM400.7 321.4h1.6v1.6h-1.6zM405.4 321.4h1.6v1.6h-1.6zM410.2 321.4h1.6v1.6h-1.6zM414.9 321.4h1.6v1.6h-1.6zM419.7 321.4h1.6v1.6h-1.6zM424.4 321.4h1.6v1.6h-1.6zM429.2 321.4h1.6v1.6h-1.6zM334.2 326.1h1.6v1.6h-1.6zM338.9 326.1h1.6v1.6h-1.6zM343.7 326.1h1.6v1.6h-1.6zM348.4 326.1h1.6v1.6h-1.6zM353.2 326.1h1.6v1.6h-1.6zM357.9 326.1h1.6v1.6h-1.6zM362.7 326.1h1.6v1.6h-1.6zM367.4 326.1h1.6v1.6h-1.6zM372.2 326.1h1.6v1.6h-1.6zM376.9 326.1h1.6v1.6h-1.6zM381.7 326.1h1.6v1.6h-1.6zM386.4 326.1h1.6v1.6h-1.6zM391.2 326.1h1.6v1.6h-1.6zM395.9 326.1h1.6v1.6h-1.6zM400.7 326.1h1.6v1.6h-1.6zM405.4 326.1h1.6v1.6h-1.6zM410.2 326.1h1.6v1.6h-1.6zM414.9 326.1h1.6v1.6h-1.6zM419.7 326.1h1.6v1.6h-1.6zM424.4 326.1h1.6v1.6h-1.6zM429.2 326.1h1.6v1.6h-1.6zM334.2 330.8h1.6v1.6h-1.6zM338.9 330.8h1.6v1.6h-1.6zM343.7 330.8h1.6v1.6h-1.6zM348.4 330.8h1.6v1.6h-1.6zM353.2 330.8h1.6v1.6h-1.6zM357.9 330.8h1.6v1.6h-1.6zM362.7 330.8h1.6v1.6h-1.6zM367.4 330.8h1.6v1.6h-1.6zM372.2 330.8h1.6v1.6h-1.6zM376.9 330.8h1.6v1.6h-1.6zM381.7 330.8h1.6v1.6h-1.6zM386.4 330.8h1.6v1.6h-1.6zM391.2 330.8h1.6v1.6h-1.6zM395.9 330.8h1.6v1.6h-1.6zM400.7 330.8h1.6v1.6h-1.6zM405.4 330.8h1.6v1.6h-1.6zM410.2 330.8h1.6v1.6h-1.6zM414.9 330.8h1.6v1.6h-1.6zM419.7 330.8h1.6v1.6h-1.6zM424.4 330.8h1.6v1.6h-1.6zM429.2 330.8h1.6v1.6h-1.6zM334.2 335.5h1.6v1.6h-1.6zM338.9 335.5h1.6v1.6h-1.6zM343.7 335.5h1.6v1.6h-1.6zM348.4 335.5h1.6v1.6h-1.6zM353.2 335.5h1.6v1.6h-1.6zM357.9 335.5h1.6v1.6h-1.6zM362.7 335.5h1.6v1.6h-1.6zM367.4 335.5h1.6v1.6h-1.6zM372.2 335.5h1.6v1.6h-1.6zM376.9 335.5h1.6v1.6h-1.6zM381.7 335.5h1.6v1.6h-1.6zM386.4 335.5h1.6v1.6h-1.6zM391.2 335.5h1.6v1.6h-1.6zM395.9 335.5h1.6v1.6h-1.6zM400.7 335.5h1.6v1.6h-1.6zM405.4 335.5h1.6v1.6h-1.6zM410.2 335.5h1.6v1.6h-1.6zM414.9 335.5h1.6v1.6h-1.6zM419.7 335.5h1.6v1.6h-1.6zM424.4 335.5h1.6v1.6h-1.6zM429.2 335.5h1.6v1.6h-1.6zM334.2 340.2h1.6v1.6h-1.6zM338.9 340.2h1.6v1.6h-1.6zM343.7 340.2h1.6v1.6h-1.6zM348.4 340.2h1.6v1.6h-1.6zM353.2 340.2h1.6v1.6h-1.6zM357.9 340.2h1.6v1.6h-1.6zM362.7 340.2h1.6v1.6h-1.6zM367.4 340.2h1.6v1.6h-1.6zM372.2 340.2h1.6v1.6h-1.6zM376.9 340.2h1.6v1.6h-1.6zM381.7 340.2h1.6v1.6h-1.6zM386.4 340.2h1.6v1.6h-1.6zM391.2 340.2h1.6v1.6h-1.6zM395.9 340.2h1.6v1.6h-1.6zM400.7 340.2h1.6v1.6h-1.6zM405.4 340.2h1.6v1.6h-1.6zM410.2 340.2h1.6v1.6h-1.6zM414.9 340.2h1.6v1.6h-1.6zM419.7 340.2h1.6v1.6h-1.6zM424.4 340.2h1.6v1.6h-1.6zM429.2 340.2h1.6v1.6h-1.6zM334.2 344.9h1.6v1.6h-1.6zM338.9 344.9h1.6v1.6h-1.6zM343.7 344.9h1.6v1.6h-1.6zM348.4 344.9h1.6v1.6h-1.6zM353.2 344.9h1.6v1.6h-1.6zM357.9 344.9h1.6v1.6h-1.6zM362.7 344.9h1.6v1.6h-1.6zM367.4 344.9h1.6v1.6h-1.6zM372.2 344.9h1.6v1.6h-1.6zM376.9 344.9h1.6v1.6h-1.6zM381.7 344.9h1.6v1.6h-1.6zM386.4 344.9h1.6v1.6h-1.6zM391.2 344.9h1.6v1.6h-1.6zM395.9 344.9h1.6v1.6h-1.6zM400.7 344.9h1.6v1.6h-1.6zM405.4 344.9h1.6v1.6h-1.6zM410.2 344.9h1.6v1.6h-1.6zM414.9 344.9h1.6v1.6h-1.6zM419.7 344.9h1.6v1.6h-1.6zM424.4 344.9h1.6v1.6h-1.6zM429.2 344.9h1.6v1.6h-1.6zM334.2 349.6h1.6v1.6h-1.6zM338.9 349.6h1.6v1.6h-1.6zM343.7 349.6h1.6v1.6h-1.6zM348.4 349.6h1.6v1.6h-1.6zM353.2 349.6h1.6v1.6h-1.6zM357.9 349.6h1.6v1.6h-1.6zM362.7 349.6h1.6v1.6h-1.6zM367.4 349.6h1.6v1.6h-1.6zM372.2 349.6h1.6v1.6h-1.6zM376.9 349.6h1.6v1.6h-1.6zM381.7 349.6h1.6v1.6h-1.6zM386.4 349.6h1.6v1.6h-1.6zM391.2 349.6h1.6v1.6h-1.6zM395.9 349.6h1.6v1.6h-1.6zM400.7 349.6h1.6v1.6h-1.6zM405.4 349.6h1.6v1.6h-1.6zM410.2 349.6h1.6v1.6h-1.6zM414.9 349.6h1.6v1.6h-1.6zM419.7 349.6h1.6v1.6h-1.6zM424.4 349.6h1.6v1.6h-1.6zM429.2 349.6h1.6v1.6h-1.6zM334.2 354.3h1.6v1.6h-1.6zM338.9 354.3h1.6v1.6h-1.6zM343.7 354.3h1.6v1.6h-1.6zM348.4 354.3h1.6v1.6h-1.6zM353.2 354.3h1.6v1.6h-1.6zM357.9 354.3h1.6v1.6h-1.6zM362.7 354.3h1.6v1.6h-1.6zM367.4 354.3h1.6v1.6h-1.6zM372.2 354.3h1.6v1.6h-1.6zM376.9 354.3h1.6v1.6h-1.6zM381.7 354.3h1.6v1.6h-1.6zM386.4 354.3h1.6v1.6h-1.6zM391.2 354.3h1.6v1.6h-1.6zM395.9 354.3h1.6v1.6h-1.6zM400.7 354.3h1.6v1.6h-1.6zM405.4 354.3h1.6v1.6h-1.6zM410.2 354.3h1.6v1.6h-1.6zM414.9 354.3h1.6v1.6h-1.6zM419.7 354.3h1.6v1.6h-1.6zM424.4 354.3h1.6v1.6h-1.6zM429.2 354.3h1.6v1.6h-1.6zM334.2 359.0h1.6v1.6h-1.6zM338.9 359.0h1.6v1.6h-1.6zM343.7 359.0h1.6v1.6h-1.6zM348.4 359.0h1.6v1.6h-1.6zM353.2 359.0h1.6v1.6h-1.6zM357.9 359.0h1.6v1.6h-1.6zM362.7 359.0h1.6v1.6h-1.6zM367.4 359.0h1.6v1.6h-1.6zM372.2 359.0h1.6v1.6h-1.6zM376.9 359.0h1.6v1.6h-1.6zM381.7 359.0h1.6v1.6h-1.6zM386.4 359.0h1.6v1.6h-1.6zM391.2 359.0h1.6v1.6h-1.6zM395.9 359.0h1.6v1.6h-1.6zM400.7 359.0h1.6v1.6h-1.6zM405.4 359.0h1.6v1.6h-1.6zM410.2 359.0h1.6v1.6h-1.6zM414.9 359.0h1.6v1.6h-1.6zM419.7 359.0h1.6v1.6h-1.6zM424.4 359.0h1.6v1.6h-1.6zM429.2 359.0h1.6v1.6h-1.6zM334.2 363.7h1.6v1.6h-1.6zM338.9 363.7h1.6v1.6h-1.6zM343.7 363.7h1.6v1.6h-1.6zM348.4 363.7h1.6v1.6h-1.6zM353.2 363.7h1.6v1.6h-1.6zM357.9 363.7h1.6v1.6h-1.6zM362.7 363.7h1.6v1.6h-1.6zM367.4 363.7h1.6v1.6h-1.6zM372.2 363.7h1.6v1.6h-1.6zM376.9 363.7h1.6v1.6h-1.6zM381.7 363.7h1.6v1.6h-1.6zM386.4 363.7h1.6v1.6h-1.6zM391.2 363.7h1.6v1.6h-1.6zM395.9 363.7h1.6v1.6h-1.6zM400.7 363.7h1.6v1.6h-1.6zM405.4 363.7h1.6v1.6h-1.6zM410.2 363.7h1.6v1.6h-1.6zM414.9 363.7h1.6v1.6h-1.6zM419.7 363.7h1.6v1.6h-1.6zM424.4 363.7h1.6v1.6h-1.6zM429.2 363.7h1.6v1.6h-1.6zM334.2 368.4h1.6v1.6h-1.6zM338.9 368.4h1.6v1.6h-1.6zM343.7 368.4h1.6v1.6h-1.6zM348.4 368.4h1.6v1.6h-1.6zM353.2 368.4h1.6v1.6h-1.6zM357.9 368.4h1.6v1.6h-1.6zM362.7 368.4h1.6v1.6h-1.6zM367.4 368.4h1.6v1.6h-1.6zM372.2 368.4h1.6v1.6h-1.6zM376.9 368.4h1.6v1.6h-1.6zM381.7 368.4h1.6v1.6h-1.6zM386.4 368.4h1.6v1.6h-1.6zM391.2 368.4h1.6v1.6h-1.6zM395.9 368.4h1.6v1.6h-1.6zM400.7 368.4h1.6v1.6h-1.6zM405.4 368.4h1.6v1.6h-1.6zM410.2 368.4h1.6v1.6h-1.6zM414.9 368.4h1.6v1.6h-1.6zM419.7 368.4h1.6v1.6h-1.6zM424.4 368.4h1.6v1.6h-1.6zM429.2 368.4h1.6v1.6h-1.6zM334.2 373.1h1.6v1.6h-1.6zM338.9 373.1h1.6v1.6h-1.6zM343.7 373.1h1.6v1.6h-1.6zM348.4 373.1h1.6v1.6h-1.6zM353.2 373.1h1.6v1.6h-1.6zM357.9 373.1h1.6v1.6h-1.6zM362.7 373.1h1.6v1.6h-1.6zM367.4 373.1h1.6v1.6h-1.6zM372.2 373.1h1.6v1.6h-1.6zM376.9 373.1h1.6v1.6h-1.6zM381.7 373.1h1.6v1.6h-1.6zM386.4 373.1h1.6v1.6h-1.6zM391.2 373.1h1.6v1.6h-1.6zM395.9 373.1h1.6v1.6h-1.6zM400.7 373.1h1.6v1.6h-1.6zM405.4 373.1h1.6v1.6h-1.6zM410.2 373.1h1.6v1.6h-1.6zM414.9 373.1h1.6v1.6h-1.6zM419.7 373.1h1.6v1.6h-1.6zM424.4 373.1h1.6v1.6h-1.6zM429.2 373.1h1.6v1.6h-1.6zM334.2 377.8h1.6v1.6h-1.6zM338.9 377.8h1.6v1.6h-1.6zM343.7 377.8h1.6v1.6h-1.6zM348.4 377.8h1.6v1.6h-1.6zM353.2 377.8h1.6v1.6h-1.6zM357.9 377.8h1.6v1.6h-1.6zM362.7 377.8h1.6v1.6h-1.6zM367.4 377.8h1.6v1.6h-1.6zM372.2 377.8h1.6v1.6h-1.6zM376.9 377.8h1.6v1.6h-1.6zM381.7 377.8h1.6v1.6h-1.6zM386.4 377.8h1.6v1.6h-1.6zM391.2 377.8h1.6v1.6h-1.6zM395.9 377.8h1.6v1.6h-1.6zM400.7 377.8h1.6v1.6h-1.6zM405.4 377.8h1.6v1.6h-1.6zM410.2 377.8h1.6v1.6h-1.6zM414.9 377.8h1.6v1.6h-1.6zM419.7 377.8h1.6v1.6h-1.6zM424.4 377.8h1.6v1.6h-1.6zM429.2 377.8h1.6v1.6h-1.6zM334.2 382.5h1.6v1.6h-1.6zM338.9 382.5h1.6v1.6h-1.6zM343.7 382.5h1.6v1.6h-1.6zM348.4 382.5h1.6v1.6h-1.6zM353.2 382.5h1.6v1.6h-1.6zM357.9 382.5h1.6v1.6h-1.6zM362.7 382.5h1.6v1.6h-1.6zM367.4 382.5h1.6v1.6h-1.6zM372.2 382.5h1.6v1.6h-1.6zM376.9 382.5h1.6v1.6h-1.6zM381.7 382.5h1.6v1.6h-1.6zM386.4 382.5h1.6v1.6h-1.6zM391.2 382.5h1.6v1.6h-1.6zM395.9 382.5h1.6v1.6h-1.6zM400.7 382.5h1.6v1.6h-1.6zM405.4 382.5h1.6v1.6h-1.6zM410.2 382.5h1.6v1.6h-1.6zM414.9 382.5h1.6v1.6h-1.6zM419.7 382.5h1.6v1.6h-1.6zM424.4 382.5h1.6v1.6h-1.6zM429.2 382.5h1.6v1.6h-1.6zM334.2 387.2h1.6v1.6h-1.6zM338.9 387.2h1.6v1.6h-1.6zM343.7 387.2h1.6v1.6h-1.6zM348.4 387.2h1.6v1.6h-1.6zM353.2 387.2h1.6v1.6h-1.6zM357.9 387.2h1.6v1.6h-1.6zM362.7 387.2h1.6v1.6h-1.6zM367.4 387.2h1.6v1.6h-1.6zM372.2 387.2h1.6v1.6h-1.6zM376.9 387.2h1.6v1.6h-1.6zM381.7 387.2h1.6v1.6h-1.6zM386.4 387.2h1.6v1.6h-1.6zM391.2 387.2h1.6v1.6h-1.6zM395.9 387.2h1.6v1.6h-1.6zM400.7 387.2h1.6v1.6h-1.6zM405.4 387.2h1.6v1.6h-1.6zM410.2 387.2h1.6v1.6h-1.6zM414.9 387.2h1.6v1.6h-1.6zM419.7 387.2h1.6v1.6h-1.6zM424.4 387.2h1.6v1.6h-1.6zM429.2 387.2h1.6v1.6h-1.6z" fill="#fff" shape-rendering="auto"/>
<rect x="353" y="311" width="59" height="58" fill="#000" />
<rect x="355" y="313" width="55" height="55" fill="#fff" />
<rect x="370.0" y="333.0" width="26" height="14" rx="2.5" fill="#fff" stroke="#000" stroke-width="2"/>
<text x="383.0" y="343" font-size="11.7" text-anchor="middle" textLength="21.5" lengthAdjust="spacingAndGlyphs" >CPU</text>
<rect x="339" y="282" width="17" height="1" fill="#000" />
<rect x="344" y="282" width="2" height="1" fill="#fff" />
<rect x="335" y="283" width="25" height="3" fill="#000" />
<rect x="336" y="284" width="23" height="1" fill="#fff" />
<rect x="339" y="286" width="17" height="1" fill="#000" />
<rect x="344" y="286" width="2" height="1" fill="#fff" />
<rect x="421" y="282" width="15" height="1" fill="#000" />
<rect x="430" y="282" width="2" height="1" fill="#fff" />
<rect x="417" y="283" width="23" height="3" fill="#000" />
<rect x="418" y="284" width="21" height="1" fill="#fff" />
<rect x="421" y="286" width="15" height="1" fill="#000" />
<rect x="430" y="286" width="2" height="1" fill="#fff" />
<path d="M329 391 L436 391 L436 396 L424 403 L344 403 L338 395 L329 395 Z" fill="#000" shape-rendering="auto"/>
<path d="M343.5 396 L421 396 L423.5 402 L346.5 402 Z" fill="#fff" shape-rendering="auto"/>
<rect x="424" y="402" width="22" height="1" fill="#000" />
<rect x="435" y="287" width="1" height="105" fill="#fff" />
<rect x="436" y="286" width="1" height="106" fill="#000" />
<rect x="437" y="287" width="1" height="105" fill="#fff" />
<rect x="438" y="287" width="13" height="105" fill="#000" />
<rect x="451" y="287" width="1" height="105" fill="#fff" />
<rect x="452" y="287" width="2" height="104" fill="#000" />
<rect x="439" y="323" width="6" height="26" fill="#fff" />
<rect x="446" y="323" width="4" height="25" fill="#fff" />
<text transform="translate(441.7,290.5) rotate(90)" font-size="11.7" style="fill:#fff;stroke:#fff" textLength="27.5" lengthAdjust="spacingAndGlyphs">AMP</text>
<rect x="286.5" y="410.5" width="81" height="19" fill="#fff" stroke="#000" stroke-width="1"/>
<rect x="291.5" y="413.5" width="5" height="5" fill="#fff" stroke="#000" stroke-width="1"/>
<rect x="291.5" y="421.5" width="5" height="5" fill="#fff" stroke="#000" stroke-width="1"/>
<rect x="299.5" y="413.5" width="5" height="5" fill="#fff" stroke="#000" stroke-width="1"/>
<rect x="299.5" y="421.5" width="5" height="5" fill="#fff" stroke="#000" stroke-width="1"/>
<rect x="306.5" y="413.5" width="5" height="5" fill="#fff" stroke="#000" stroke-width="1"/>
<rect x="306.5" y="421.5" width="5" height="5" fill="#fff" stroke="#000" stroke-width="1"/>
<rect x="314.5" y="413.5" width="5" height="5" fill="#fff" stroke="#000" stroke-width="1"/>
<rect x="314.5" y="421.5" width="5" height="5" fill="#fff" stroke="#000" stroke-width="1"/>
<rect x="321.5" y="413.5" width="5" height="5" fill="#fff" stroke="#000" stroke-width="1"/>
<rect x="321.5" y="421.5" width="5" height="5" fill="#fff" stroke="#000" stroke-width="1"/>
<rect x="329.5" y="413.5" width="5" height="5" fill="#fff" stroke="#000" stroke-width="1"/>
<rect x="329.5" y="421.5" width="5" height="5" fill="#fff" stroke="#000" stroke-width="1"/>
<rect x="336.5" y="413.5" width="5" height="5" fill="#fff" stroke="#000" stroke-width="1"/>
<rect x="336.5" y="421.5" width="5" height="5" fill="#fff" stroke="#000" stroke-width="1"/>
<rect x="343.5" y="413.5" width="5" height="5" fill="#fff" stroke="#000" stroke-width="1"/>
<rect x="343.5" y="421.5" width="5" height="5" fill="#fff" stroke="#000" stroke-width="1"/>
<rect x="351.5" y="413.5" width="5" height="5" fill="#fff" stroke="#000" stroke-width="1"/>
<rect x="351.5" y="421.5" width="5" height="5" fill="#fff" stroke="#000" stroke-width="1"/>
<rect x="358.5" y="413.5" width="5" height="5" fill="#fff" stroke="#000" stroke-width="1"/>
<rect x="358.5" y="421.5" width="5" height="5" fill="#fff" stroke="#000" stroke-width="1"/>
<rect x="314.0" y="384.0" width="24" height="11" rx="1" fill="#fff" stroke="#000" stroke-width="2"/>
<path d="M322 395 L324 400 L324 405 L325 406 L325 410 L327 410 L327 406 L328 405 L328 400 L330 395 Z" fill="#000"/>
<path d="M324 393.5 L325.5 398.5 L326.5 398.5 L328 393.5 Z" fill="#fff"/>
<text x="326.0" y="394" font-size="11.7" text-anchor="middle" textLength="19.9" lengthAdjust="spacingAndGlyphs" >ATX</text>
<rect x="378.5" y="414.5" width="24" height="10" fill="#fff" stroke="#000" stroke-width="1"/>
<rect x="383.0" y="388.0" width="19" height="13" rx="1" fill="#fff" stroke="#000" stroke-width="2"/>
<path d="M387.5 401 L389.5 406 L389.5 411 L390.5 412 L390.5 414 L392.5 414 L392.5 412 L393.5 411 L393.5 406 L395.5 401 Z" fill="#000"/>
<path d="M389.5 399.5 L391.0 404.5 L392.0 404.5 L393.5 399.5 Z" fill="#fff"/>
<text x="392.5" y="398" font-size="11.7" text-anchor="middle" textLength="13.1" lengthAdjust="spacingAndGlyphs" >C5</text>
<rect x="424" y="413" width="25" height="11" fill="#000" />
<rect x="427" y="418" width="20" height="1" fill="#fff" />
<rect x="429" y="415" width="1" height="7" fill="#fff" />
<rect x="434" y="415" width="1" height="7" fill="#fff" />
<rect x="439" y="415" width="1" height="7" fill="#fff" />
<rect x="444" y="415" width="1" height="7" fill="#fff" />
<rect x="424.0" y="386.0" width="25" height="13" rx="1" fill="#fff" stroke="#000" stroke-width="2"/>
<path d="M432 399 L434 404 L434 409 L435 410 L435 413 L437 413 L437 410 L438 409 L438 404 L440 399 Z" fill="#000"/>
<path d="M434 397.5 L435.5 402.5 L436.5 402.5 L438 397.5 Z" fill="#fff"/>
<text x="436.5" y="396" font-size="11.7" text-anchor="middle" textLength="21.5" lengthAdjust="spacingAndGlyphs" >CN8</text>
<clipPath id="pc1"><rect x="76" y="410" width="90" height="20"/></clipPath>
<g clip-path="url(#pc1)">
<rect x="76" y="410" width="90" height="20" fill="#fff" />
<rect x="79" y="412" width="3" height="2" fill="#000" />
<rect x="78" y="414" width="6" height="2" fill="#000" />
<rect x="78" y="418" width="5" height="1" fill="#000" />
<rect x="86" y="412" width="3" height="2" fill="#000" />
<rect x="85" y="414" width="6" height="2" fill="#000" />
<rect x="85" y="418" width="5" height="1" fill="#000" />
<rect x="94" y="412" width="3" height="2" fill="#000" />
<rect x="92" y="414" width="6" height="2" fill="#000" />
<rect x="92" y="418" width="5" height="1" fill="#000" />
<rect x="101" y="412" width="3" height="2" fill="#000" />
<rect x="100" y="414" width="6" height="2" fill="#000" />
<rect x="100" y="418" width="5" height="1" fill="#000" />
<rect x="108" y="412" width="3" height="2" fill="#000" />
<rect x="107" y="414" width="6" height="2" fill="#000" />
<rect x="107" y="418" width="5" height="1" fill="#000" />
<rect x="116" y="412" width="3" height="2" fill="#000" />
<rect x="114" y="414" width="6" height="2" fill="#000" />
<rect x="114" y="418" width="5" height="1" fill="#000" />
<rect x="123" y="412" width="3" height="2" fill="#000" />
<rect x="122" y="414" width="6" height="2" fill="#000" />
<rect x="122" y="418" width="5" height="1" fill="#000" />
<rect x="130" y="412" width="3" height="2" fill="#000" />
<rect x="129" y="414" width="6" height="2" fill="#000" />
<rect x="129" y="418" width="5" height="1" fill="#000" />
<rect x="138" y="412" width="3" height="2" fill="#000" />
<rect x="136" y="414" width="6" height="2" fill="#000" />
<rect x="136" y="418" width="5" height="1" fill="#000" />
<rect x="145" y="412" width="3" height="2" fill="#000" />
<rect x="144" y="414" width="6" height="2" fill="#000" />
<rect x="144" y="418" width="5" height="1" fill="#000" />
<rect x="152" y="412" width="3" height="2" fill="#000" />
<rect x="151" y="414" width="6" height="2" fill="#000" />
<rect x="151" y="418" width="5" height="1" fill="#000" />
<rect x="160" y="412" width="3" height="2" fill="#000" />
<rect x="158" y="414" width="6" height="2" fill="#000" />
<rect x="158" y="418" width="5" height="1" fill="#000" />
<rect x="73.5" y="421.5" width="4" height="5" fill="#fff" stroke="#000" stroke-width="1"/>
<rect x="81.5" y="421.5" width="4" height="5" fill="#fff" stroke="#000" stroke-width="1"/>
<rect x="88.5" y="421.5" width="4" height="5" fill="#fff" stroke="#000" stroke-width="1"/>
<rect x="96.5" y="421.5" width="4" height="5" fill="#fff" stroke="#000" stroke-width="1"/>
<rect x="103.5" y="421.5" width="4" height="5" fill="#fff" stroke="#000" stroke-width="1"/>
<rect x="110.5" y="421.5" width="4" height="5" fill="#fff" stroke="#000" stroke-width="1"/>
<rect x="118.5" y="421.5" width="4" height="5" fill="#fff" stroke="#000" stroke-width="1"/>
<rect x="125.5" y="421.5" width="4" height="5" fill="#fff" stroke="#000" stroke-width="1"/>
<rect x="133.5" y="421.5" width="4" height="5" fill="#fff" stroke="#000" stroke-width="1"/>
<rect x="140.5" y="421.5" width="4" height="5" fill="#fff" stroke="#000" stroke-width="1"/>
<rect x="147.5" y="421.5" width="4" height="5" fill="#fff" stroke="#000" stroke-width="1"/>
<rect x="155.5" y="421.5" width="4" height="5" fill="#fff" stroke="#000" stroke-width="1"/>
<rect x="162.5" y="421.5" width="4" height="5" fill="#fff" stroke="#000" stroke-width="1"/>
<rect x="170.5" y="421.5" width="4" height="5" fill="#fff" stroke="#000" stroke-width="1"/>
</g>
<rect x="76.5" y="410.5" width="89" height="19" fill="none" stroke="#000"/>
<rect x="76" y="428" width="90" height="2" fill="#000" />
<rect x="76" y="422" width="2" height="4" fill="#000" />
<rect x="164" y="422" width="2" height="4" fill="#000" />
<rect x="113.0" y="383.0" width="18" height="13" rx="2.5" fill="#fff" stroke="#000" stroke-width="2"/>
<path d="M117 396 L119 401 L119 406 L120 407 L120 410 L122 410 L122 407 L123 406 L123 401 L125 396 Z" fill="#000"/>
<path d="M119 394.5 L120.5 399.5 L121.5 399.5 L123 394.5 Z" fill="#fff"/>
<text x="122.0" y="393" font-size="11.7" text-anchor="middle" textLength="12.5" lengthAdjust="spacingAndGlyphs" >P1</text>
<clipPath id="pc2"><rect x="223" y="410" width="45" height="20"/></clipPath>
<g clip-path="url(#pc2)">
<rect x="223" y="410" width="45" height="20" fill="#fff" />
<rect x="227" y="412" width="3" height="2" fill="#000" />
<rect x="225" y="414" width="6" height="2" fill="#000" />
<rect x="225" y="418" width="5" height="1" fill="#000" />
<rect x="234" y="412" width="3" height="2" fill="#000" />
<rect x="232" y="414" width="6" height="2" fill="#000" />
<rect x="232" y="418" width="5" height="1" fill="#000" />
<rect x="241" y="412" width="3" height="2" fill="#000" />
<rect x="240" y="414" width="6" height="2" fill="#000" />
<rect x="240" y="418" width="5" height="1" fill="#000" />
<rect x="248" y="412" width="3" height="2" fill="#000" />
<rect x="247" y="414" width="6" height="2" fill="#000" />
<rect x="247" y="418" width="5" height="1" fill="#000" />
<rect x="255" y="412" width="3" height="2" fill="#000" />
<rect x="254" y="414" width="6" height="2" fill="#000" />
<rect x="254" y="418" width="5" height="1" fill="#000" />
<rect x="262" y="412" width="3" height="2" fill="#000" />
<rect x="261" y="414" width="6" height="2" fill="#000" />
<rect x="261" y="418" width="5" height="1" fill="#000" />
<rect x="221.5" y="421.5" width="4" height="5" fill="#fff" stroke="#000" stroke-width="1"/>
<rect x="228.5" y="421.5" width="4" height="5" fill="#fff" stroke="#000" stroke-width="1"/>
<rect x="235.5" y="421.5" width="4" height="5" fill="#fff" stroke="#000" stroke-width="1"/>
<rect x="243.5" y="421.5" width="4" height="5" fill="#fff" stroke="#000" stroke-width="1"/>
<rect x="250.5" y="421.5" width="4" height="5" fill="#fff" stroke="#000" stroke-width="1"/>
<rect x="258.5" y="421.5" width="4" height="5" fill="#fff" stroke="#000" stroke-width="1"/>
<rect x="265.5" y="421.5" width="4" height="5" fill="#fff" stroke="#000" stroke-width="1"/>
<rect x="272.5" y="421.5" width="4" height="5" fill="#fff" stroke="#000" stroke-width="1"/>
</g>
<rect x="223.5" y="410.5" width="44" height="19" fill="none" stroke="#000"/>
<rect x="223" y="428" width="45" height="2" fill="#000" />
<rect x="223" y="422" width="2" height="4" fill="#000" />
<rect x="266" y="422" width="2" height="4" fill="#000" />
<rect x="238.0" y="384.0" width="19" height="13" rx="2.5" fill="#fff" stroke="#000" stroke-width="2"/>
<path d="M242 397 L244 402 L244 407 L245 408 L245 410 L247 410 L247 408 L248 407 L248 402 L250 397 Z" fill="#000"/>
<path d="M244 395.5 L245.5 400.5 L246.5 400.5 L248 395.5 Z" fill="#fff"/>
<text x="247.5" y="394" font-size="11.7" text-anchor="middle" textLength="12.5" lengthAdjust="spacingAndGlyphs" >P2</text>
<rect x="519" y="253" width="29" height="25" fill="#000" />
<rect x="537" y="246" width="6" height="38" fill="#000" />
<rect x="561.0" y="259.0" width="26" height="13" rx="2.5" fill="#fff" stroke="#000" stroke-width="2"/>
<path d="M561 260 L556 263 L551 263 L550 264 L548 264 L548 266 L550 266 L551 267 L556 267 L561 270 Z" fill="#000"/>
<path d="M562.5 261.5 L557.5 264.5 L557.5 265.5 L562.5 268.5 Z" fill="#fff"/>
<text x="574.0" y="269" font-size="11.7" text-anchor="middle" textLength="20.5" lengthAdjust="spacingAndGlyphs" >CN1</text>
<rect x="536" y="287" width="7" height="4" fill="#000" />
<rect x="535" y="290" width="8" height="5" fill="#000" />
<rect x="507" y="301" width="22" height="74" fill="#000" />
<rect x="514" y="296" width="15" height="5" fill="#000" />
<rect x="522.5" y="294.5" width="15" height="4" fill="#fff" stroke="#000" stroke-width="1"/>
<rect x="526" y="293" width="3" height="90" fill="#000" />
<rect x="507" y="301" width="22" height="74" fill="#000" />
<rect x="530" y="293" width="1" height="90" fill="#000" />
<rect x="529" y="293" width="1" height="90" fill="#fff" />
<rect x="531" y="299" width="11" height="3" fill="#000" />
<rect x="531" y="373" width="12" height="1" fill="#000" />
<rect x="542.5" y="290.5" width="8" height="4" fill="#fff" stroke="#000" stroke-width="1"/>
<path d="M542.5 296.5 L551.5 296.5 Q554.5 296.5 554.5 299.5 L554.5 327.5 Q554.5 330.5 551.5 330.5 L542.5 330.5 Z" fill="#fff" stroke="#000" stroke-width="1" shape-rendering="auto"/>
<rect x="542.5" y="333.5" width="8" height="4" fill="#fff" stroke="#000" stroke-width="1"/>
<path d="M542.5 340.5 L554.5 340.5 L554.5 373.5 L542.5 373.5 Z" fill="#fff" stroke="#000" stroke-width="1"/>
<rect x="522.5" y="376.5" width="27" height="4" fill="#fff" stroke="#000" stroke-width="1"/>
<rect x="526" y="375" width="3" height="8" fill="#000" />
<rect x="530" y="375" width="1" height="8" fill="#000" />
<rect x="529" y="375" width="1" height="8" fill="#fff" />
<rect x="512.0" y="331.0" width="25" height="13" rx="0" fill="#fff" stroke="#000" stroke-width="2"/>
<text x="525" y="342" font-size="11.7" text-anchor="middle" textLength="20" lengthAdjust="spacingAndGlyphs" >CN2</text>
<rect x="511" y="330" width="2" height="15" fill="#000" />
<rect x="568.0" y="315.0" width="27" height="13" rx="2.5" fill="#fff" stroke="#000" stroke-width="2"/>
<path d="M568 316 L563 319 L558 319 L557 320 L556 320 L556 322 L557 322 L558 323 L563 323 L568 326 Z" fill="#000"/>
<path d="M569.5 317.5 L564.5 320.5 L564.5 321.5 L569.5 324.5 Z" fill="#fff"/>
<text x="581.5" y="325" font-size="11.7" text-anchor="middle" textLength="20.5" lengthAdjust="spacingAndGlyphs" >CN3</text>
<rect x="568.0" y="344.0" width="27" height="13" rx="2.5" fill="#fff" stroke="#000" stroke-width="2"/>
<path d="M568 345 L563 348 L558 348 L557 349 L556 349 L556 351 L557 351 L558 352 L563 352 L568 355 Z" fill="#000"/>
<path d="M569.5 346.5 L564.5 349.5 L564.5 350.5 L569.5 353.5 Z" fill="#fff"/>
<text x="581.5" y="354" font-size="11.7" text-anchor="middle" textLength="20.5" lengthAdjust="spacingAndGlyphs" >CN4</text>
<rect x="504.5" y="392.5" width="26" height="32" fill="#fff" stroke="#000" stroke-width="1"/>
<path d="M543 373 L537 373 L537 385 L542 385 L542 387.5 L539 387.5 L539 390 L537 390 L537 392 L531 392 L531 424 L536 424 L539 428 L543 428 Z" fill="#000"/>
<rect x="506.0" y="402.0" width="24" height="13" rx="3" fill="#fff" stroke="#000" stroke-width="2"/>
<text x="518.0" y="412" font-size="11.7" text-anchor="middle" textLength="20.5" lengthAdjust="spacingAndGlyphs" >CN5</text>
</svg>
</body></html>
